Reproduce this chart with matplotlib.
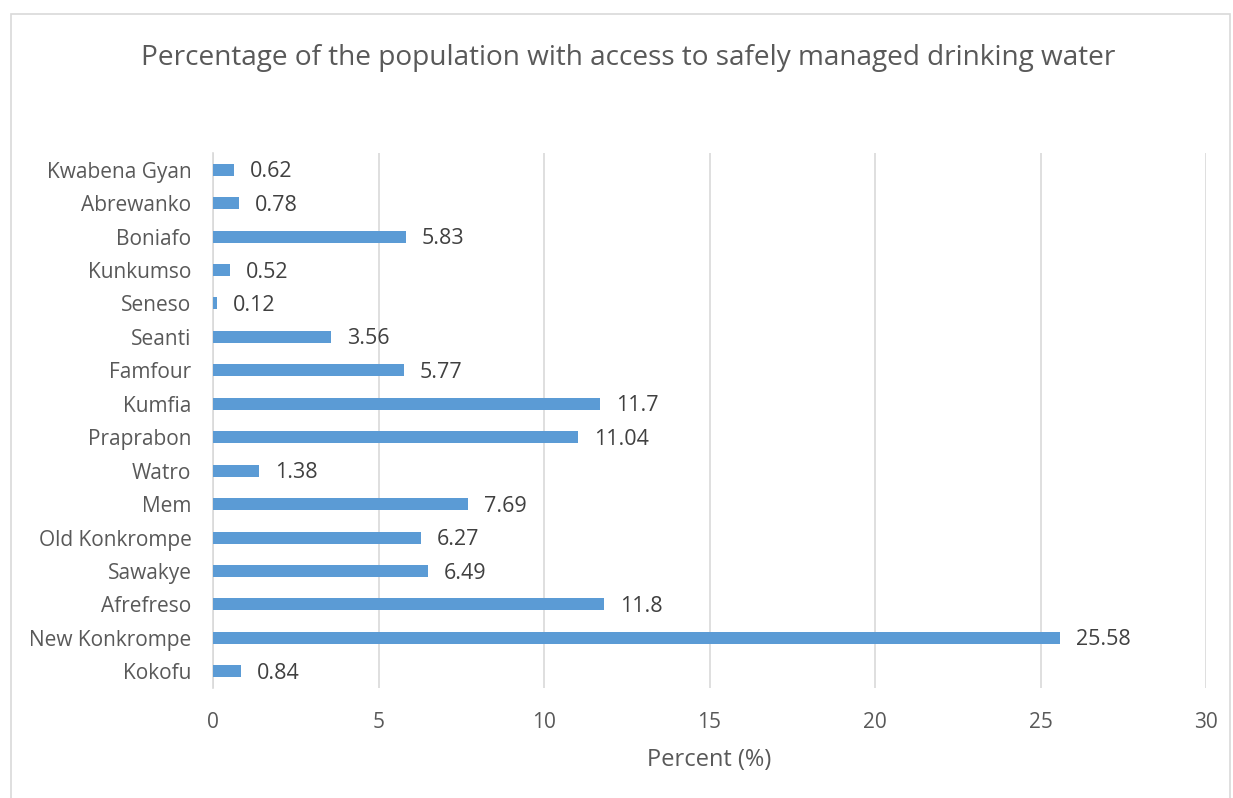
import matplotlib
matplotlib.use("Agg")
import matplotlib.pyplot as plt
from matplotlib.patches import Rectangle

categories = ["Kokofu", "New Konkrompe", "Afrefreso", "Sawakye", "Old Konkrompe", "Mem",
              "Watro", "Praprabon", "Kumfia", "Famfour", "Seanti", "Seneso", "Kunkumso",
              "Boniafo", "Abrewanko", "Kwabena Gyan"]
values = [0.84, 25.58, 11.8, 6.49, 6.27, 7.69, 1.38, 11.04, 11.7, 5.77, 3.56, 0.12, 0.52,
          5.83, 0.78, 0.62]
value_labels = ["0.84", "25.58", "11.8", "6.49", "6.27", "7.69", "1.38", "11.04", "11.7",
                "5.77", "3.56", "0.12", "0.52", "5.83", "0.78", "0.62"]
xticks = [0, 5, 10, 15, 20, 25, 30]

plt.rcParams['font.family'] = ['Open Sans', 'DejaVu Sans']

fig = plt.figure(figsize=(12.33, 7.98), dpi=100)
fig.patches.append(Rectangle((11/1233, -0.01), (1230-11)/1233, 1 - 14/798 + 0.01,
                             transform=fig.transFigure, fill=False,
                             edgecolor="#d9d9d9", linewidth=1.2))

ax = fig.add_axes([213/1233, 1-688/798, (1206-213)/1233, (688-153)/798])
y = range(len(categories))
ax.barh(y, values, height=0.36, color="#5B9BD5", zorder=3)
for i, (v, lab) in enumerate(zip(values, value_labels)):
    ax.annotate(lab, (v, i), xytext=(11.5, -1.5), textcoords="offset points",
                va="center", ha="left", fontsize=15.5, color="#404040")

ax.set_xlim(0, 30)
ax.set_ylim(-0.5, len(categories) - 0.5)
ax.set_xticks(xticks)
ax.set_xticklabels([str(t) for t in xticks])
ax.set_yticks(list(y))
ax.set_yticklabels(categories)
ax.tick_params(axis="both", length=0, labelsize=15, labelcolor="#595959")
ax.tick_params(axis="x", pad=17)
ax.tick_params(axis="y", pad=15.5)
ax.grid(axis="x", color="#d9d9d9", linewidth=1.2, zorder=0)
for s in ["top", "right", "bottom"]:
    ax.spines[s].set_visible(False)
ax.spines["left"].set_color("#d9d9d9")
ax.spines["left"].set_linewidth(1.2)
ax.set_xlabel("Percent (%)", fontsize=17, color="#595959", labelpad=11)

fig.text(628/1233, 1-57.5/798, "Percentage of the population with access to safely managed drinking water",
         ha="center", va="center", fontsize=20.2, color="#595959")

fig.savefig("out.png", dpi=100)
